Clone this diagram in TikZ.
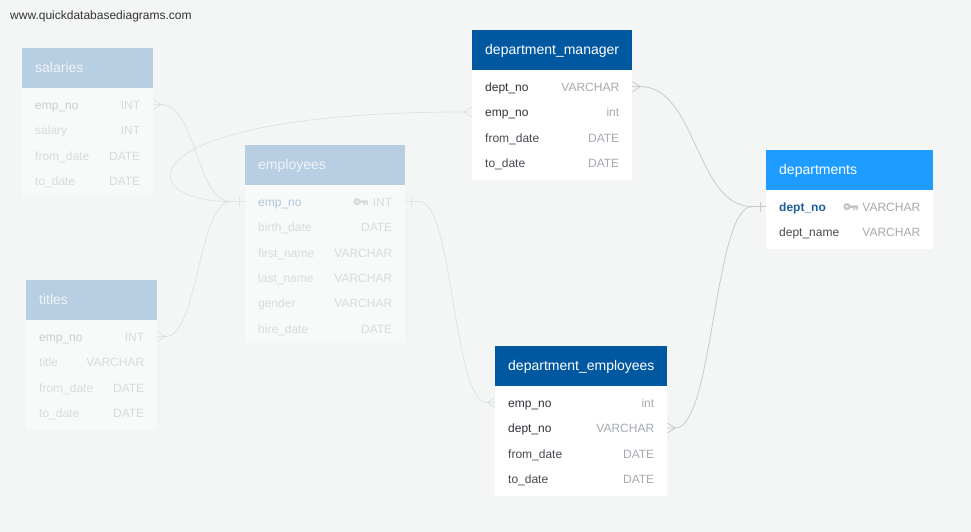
\documentclass[tikz,border=0pt]{standalone}
\usepackage{fontspec}
\setmainfont{Liberation Sans}
\usepackage{tikz}
\usetikzlibrary{positioning}

\definecolor{canvas}{RGB}{244,246,246}
\definecolor{fadehead}{RGB}{184,207,227}
\definecolor{fadehdtxt}{RGB}{240,244,248}
\definecolor{fadebody}{RGB}{248,249,249}
\definecolor{fadetxt}{RGB}{216,219,222}
\definecolor{fadekey}{RGB}{202,206,210}
\definecolor{empkey}{RGB}{172,198,222}
\definecolor{fadeline}{RGB}{224,227,229}
\definecolor{darkhead}{RGB}{0,88,160}
\definecolor{bluehead}{RGB}{30,156,255}
\definecolor{nametxt}{RGB}{70,74,80}
\definecolor{keytxt}{RGB}{45,49,55}
\definecolor{typecol}{RGB}{165,170,176}
\definecolor{depkey}{RGB}{30,95,155}
\definecolor{linkline}{RGB}{200,202,204}
\definecolor{urltxt}{RGB}{51,51,51}
\definecolor{keyicon}{RGB}{195,199,204}

\newcommand\fieldrow[2]{\hbox to\hsize{#1\hfill\textcolor{typecol}{#2}}}

\tikzset{
	hdr/.style={anchor=north west, minimum width=#1pt, text width=#1pt-26pt, minimum height=40pt, inner xsep=13pt, inner ysep=0pt, text height=13.5pt, text depth=4pt, text=white, font=\fontsize{14}{16}\selectfont},
	row/.style={minimum width=#1pt, text width=#1pt-26pt, minimum height=25pt, inner xsep=13pt, inner ysep=0pt, text height=12.5pt, text depth=3pt, text=nametxt, font=\fontsize{12}{14}\selectfont},
	faded/.style={text=fadetxt, execute at begin node={\colorlet{typecol}{fadetxt}}},
	fadelink/.style={draw=fadeline, line width=0.8pt},
	link/.style={draw=linkline, line width=0.8pt},
	crowfoot/.pic={\draw[pic actions] (0,-5) -- (8,0) -- (0,5) (0,0) -- (8,0); \coordinate (-tip) at (8,0);},
	onebar/.pic={\draw[pic actions] (0,0) -- (14,0) (6,-5) -- (6,5); \coordinate (-tip) at (14,0);},
	keyicon/.pic={\fill[pic actions, even odd rule] (-3.5,0) circle (3.6) (-3.5,0) circle (1.4); \fill[pic actions] (-0.5,-1.3) rectangle (7.5,1.3) (3,1.3) rectangle (4.6,3.6) (5.9,1.3) rectangle (7.5,3.6);}
}

\begin{document}
\begin{tikzpicture}[x=1pt,y=-1pt]
	\useasboundingbox (0,0) rectangle (971,532);
	\fill[canvas] (0,0) rectangle (971,532);
	\node[anchor=west, inner sep=0pt, text=urltxt, font=\fontsize{12}{14}\selectfont] (url) at (10,16.5) {www.quickdatabasediagrams.com};

	\node[hdr=131, fill=fadehead, text=fadehdtxt] (salaries) at (22,48) {salaries};
	\fill[fadebody] (salaries.south west) rectangle ++(131,109);
	\node[row=131, faded, below=3.5pt of salaries] (sal-emp) {\fieldrow{\textcolor{fadekey}{emp\_no}}{INT}};
	\node[row=131, faded, below=0pt of sal-emp] (sal-sal) {\fieldrow{salary}{INT}};
	\node[row=131, faded, below=0pt of sal-sal] (sal-from) {\fieldrow{from\_date}{DATE}};
	\node[row=131, faded, below=0pt of sal-from] (sal-to) {\fieldrow{to\_date}{DATE}};

	\node[hdr=131, fill=fadehead, text=fadehdtxt] (titles) at (26,280) {titles};
	\fill[fadebody] (titles.south west) rectangle ++(131,110);
	\node[row=131, faded, below=3.5pt of titles] (tit-emp) {\fieldrow{\textcolor{fadekey}{emp\_no}}{INT}};
	\node[row=131, faded, below=0pt of tit-emp] (tit-title) {\fieldrow{title}{VARCHAR}};
	\node[row=131, faded, below=0pt of tit-title] (tit-from) {\fieldrow{from\_date}{DATE}};
	\node[row=131, faded, below=0pt of tit-from] (tit-to) {\fieldrow{to\_date}{DATE}};

	\node[hdr=160, fill=fadehead, text=fadehdtxt] (employees) at (245,145) {employees};
	\fill[fadebody] (employees.south west) rectangle ++(160,158);
	\node[row=160, faded, below=3.5pt of employees] (emp-emp) {\fieldrow{\textcolor{empkey}{emp\_no}}{INT}};
	\node[row=160, faded, below=0pt of emp-emp] (emp-birth) {\fieldrow{birth\_date}{DATE}};
	\node[row=160, faded, below=0pt of emp-birth] (emp-first) {\fieldrow{first\_name}{VARCHAR}};
	\node[row=160, faded, below=0pt of emp-first] (emp-last) {\fieldrow{last\_name}{VARCHAR}};
	\node[row=160, faded, below=0pt of emp-last] (emp-gender) {\fieldrow{gender}{VARCHAR}};
	\node[row=160, faded, below=0pt of emp-gender] (emp-hire) {\fieldrow{hire\_date}{DATE}};
	\pic[fill=fadetxt] at ([xshift=-45pt]emp-emp.east) {keyicon};

	\node[hdr=160, fill=darkhead] (dm) at (472,30) {department\_manager};
	\fill[white] (dm.south west) rectangle ++(160,110);
	\node[row=160, below=3.5pt of dm] (dm-dept) {\fieldrow{\textcolor{keytxt}{dept\_no}}{VARCHAR}};
	\node[row=160, below=0pt of dm-dept] (dm-emp) {\fieldrow{\textcolor{keytxt}{emp\_no}}{int}};
	\node[row=160, below=0pt of dm-emp] (dm-from) {\fieldrow{from\_date}{DATE}};
	\node[row=160, below=0pt of dm-from] (dm-to) {\fieldrow{to\_date}{DATE}};

	\node[hdr=172, fill=darkhead] (de) at (495,346) {department\_employees};
	\fill[white] (de.south west) rectangle ++(172,110);
	\node[row=172, below=3.5pt of de] (de-emp) {\fieldrow{\textcolor{keytxt}{emp\_no}}{int}};
	\node[row=172, below=0pt of de-emp] (de-dept) {\fieldrow{\textcolor{keytxt}{dept\_no}}{VARCHAR}};
	\node[row=172, below=0pt of de-dept] (de-from) {\fieldrow{from\_date}{DATE}};
	\node[row=172, below=0pt of de-from] (de-to) {\fieldrow{to\_date}{DATE}};

	\node[hdr=167, fill=bluehead] (departments) at (766,150) {departments};
	\fill[white] (departments.south west) rectangle ++(167,59);
	\node[row=167, below=3.5pt of departments] (dep-no) {\fieldrow{\textcolor{depkey}{\bfseries dept\_no}}{VARCHAR}};
	\node[row=167, below=0pt of dep-no] (dep-name) {\fieldrow{dept\_name}{VARCHAR}};
	\pic[fill=keyicon] at ([xshift=-83pt]dep-no.east) {keyicon};

	\pic[fadelink] (salF) at (sal-emp.east) {crowfoot};
	\pic[fadelink] (titF) at (tit-emp.east) {crowfoot};
	\pic[fadelink, xscale=-1] (dmE) at (dm-emp.west) {crowfoot};
	\pic[fadelink, xscale=-1] (empL) at (emp-emp.west) {onebar};
	\pic[fadelink] (empR) at (emp-emp.east) {onebar};
	\pic[fadelink, xscale=-1] (deE) at (de-emp.west) {crowfoot};
	\pic[link] (dmD) at (dm-dept.east) {crowfoot};
	\pic[link] (deD) at (de-dept.east) {crowfoot};
	\pic[link, xscale=-1] (depL) at (dep-no.west) {onebar};

	\draw[fadelink] (salF-tip) .. controls +(35,0) and +(-35,0) .. (empL-tip);
	\draw[fadelink] (titF-tip) .. controls +(33,0) and +(-33,0) .. (empL-tip);
	\draw[fadelink] (dmE-tip) .. controls +(-338,0) and +(-103,0) .. (empL-tip);
	\draw[fadelink] (empR-tip) .. controls +(34,0) and +(-34,0) .. (deE-tip);
	\draw[link] (dmD-tip) .. controls +(56,0) and +(-56,0) .. (depL-tip);
	\draw[link] (deD-tip) .. controls +(38,0) and +(-38,0) .. (depL-tip);
\end{tikzpicture}
\end{document}
